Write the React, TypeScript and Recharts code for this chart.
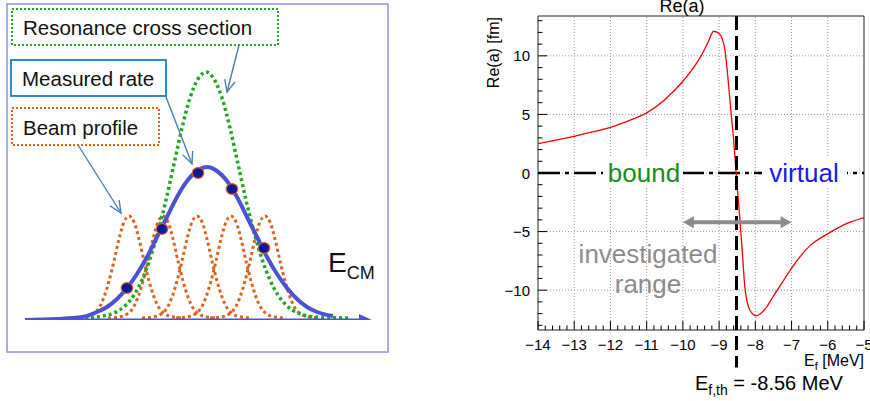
import React from "react";
import {
  ComposedChart,
  Line,
  Scatter,
  XAxis,
  YAxis,
  ReferenceLine,
  ReferenceArea,
} from "recharts";

const FONT = "'Liberation Sans', Arial, Helvetica, sans-serif";

// ---- left panel: schematic resonance scan (arbitrary energy / yield units)
const resonanceE = [85, 96, 114, 126, 134, 142, 150, 158, 166, 174, 182, 190, 198, 206, 214, 222, 230, 238, 246, 254, 262, 270, 278, 286, 298, 316, 350];
const resonanceY = [2, 3, 7, 15, 25, 40, 61, 88, 120, 156, 192, 222, 241, 248, 241, 222, 192, 156, 120, 88, 61, 40, 25, 15, 7, 3, 2];

const rateE = [25, 57, 82, 97, 107, 117, 127, 137, 147, 157, 167, 177, 187, 197, 207, 217, 227, 237, 247, 257, 267, 277, 287, 297, 307, 317, 333];
const rateY = [0, 1, 3, 8, 13, 21, 32, 46, 63, 83, 103, 123, 139, 149, 153, 149, 139, 123, 103, 83, 63, 46, 32, 21, 13, 8, 4];

const pointE = [127, 162, 198, 232, 264];
const pointY = [32, 91, 147, 131, 72];

const beamCenters = [129, 163, 197, 231, 265];
const beamOffsets = [-55, -44, -36, -30, -25, -20, -15, -10, -5, 0, 5, 10, 15, 20, 25, 30, 36, 44, 55];
const beamShape = [2, 3, 6, 12, 23, 39, 59, 81, 98, 104, 98, 81, 59, 39, 23, 12, 6, 3, 2];

const axisE = [25, 366];

// ---- right panel: Re(a) vs E_f
const energyF = [-14, -13.5, -13, -12.5, -12, -11.5, -11, -10.5, -10, -9.75, -9.5, -9.3, -9.15, -9.0, -8.85, -8.75, -8.66, -8.59, -8.53, -8.44, -8.37, -8.29, -8.19, -8.08, -7.98, -7.85, -7.68, -7.5, -7.31, -6.95, -6.49, -5.98, -5.47, -5.0];
const reA = [2.5, 2.8, 3.13, 3.5, 3.9, 4.45, 5.13, 6.26, 7.83, 8.8, 9.97, 11.2, 12.1, 11.9, 10.7, 7.9, 4.8, 2.5, 0, -3.45, -6.3, -9.7, -11.4, -12.0, -12.2, -12.0, -11.4, -10.5, -9.6, -7.9, -6.2, -5.15, -4.3, -3.8];

const xGrid = [-13, -12, -11, -10, -9, -8, -7, -6];
const yGrid = [-10, -5, 0, 5, 10];
const xDomain: [number, number] = [-14, -5];
const yDomain: [number, number] = [-13.4, 13.4];
const thresholdLine = -8.52;
const rangeFrom = -10;
const rangeTo = -7;
const rangeY = -4.2;

const xTicks = Array.from({ length: 46 }, (_, i) => Math.round((-14 + i * 0.2) * 10) / 10);
const yTicks = Array.from({ length: 27 }, (_, i) => i - 13);

const zip = (xs: number[], ys: number[]) => xs.map((x, i) => ({ x, y: ys[i] }));

const resonanceData = zip(resonanceE, resonanceY);
const rateData = zip(rateE, rateY);
const pointData = zip(pointE, pointY);
const beamData = beamCenters.map((c) => beamOffsets.map((o, i) => ({ x: c + o, y: beamShape[i] })));
const axisData = axisE.map((x) => ({ x, y: 0 }));
const arrowTip = [{ x: 372, y: 0 }];
const reData = zip(energyF, reA);

const fmt = (v: number) => (v < 0 ? `\u2212${Math.abs(v)}` : `${v}`);

const XTick = (p: any) => {
  const v = p.payload.value;
  const major = Math.abs(v - Math.round(v)) < 1e-6;
  return (
    <g>
      <line x1={p.x} x2={p.x} y1={p.y} y2={p.y - (major ? 9 : 4.5)} stroke="#000" strokeWidth={1} />
      {major && (
        <text x={p.x} y={p.y + 20} textAnchor="middle" fontSize={15} fontFamily={FONT} fill="#000">
          {fmt(v)}
        </text>
      )}
    </g>
  );
};

const YTick = (p: any) => {
  const v = p.payload.value;
  const major = v % 5 === 0;
  return (
    <g>
      <line x1={p.x} x2={p.x + (major ? 9 : 4.5)} y1={p.y} y2={p.y} stroke="#000" strokeWidth={1} />
      {major && (
        <text x={p.x - 8} y={p.y + 5.5} textAnchor="end" fontSize={15} fontFamily={FONT} fill="#000">
          {fmt(v)}
        </text>
      )}
    </g>
  );
};

const DoubleArrow = (p: any) => {
  const { x1, y1, x2 } = p;
  const c = "#8c8c8c";
  return (
    <g>
      <line x1={x1 + 8} x2={x2 - 8} y1={y1} y2={y1} stroke={c} strokeWidth={4} />
      <polygon points={`${x1},${y1} ${x1 + 11},${y1 - 6} ${x1 + 11},${y1 + 6}`} fill={c} />
      <polygon points={`${x2},${y1} ${x2 - 11},${y1 - 6} ${x2 - 11},${y1 + 6}`} fill={c} />
    </g>
  );
};

const Callout = ({ x1, y1, x2, y2 }: { x1: number; y1: number; x2: number; y2: number }) => {
  const a = Math.atan2(y2 - y1, x2 - x1);
  const L = 13;
  const s = 0.42;
  const h1 = `${x2 - L * Math.cos(a - s)},${y2 - L * Math.sin(a - s)}`;
  const h2 = `${x2 - L * Math.cos(a + s)},${y2 - L * Math.sin(a + s)}`;
  return (
    <g stroke="#4a7fb2" strokeWidth={1.4} fill="none">
      <line x1={x1} y1={y1} x2={x2} y2={y2} />
      <polyline points={`${h1} ${x2},${y2} ${h2}`} />
    </g>
  );
};

export default function App() {
  return (
    <div
      style={{
        position: "absolute",
        left: 0,
        top: 0,
        width: 870,
        height: 401,
        background: "#fff",
        overflow: "hidden",
        fontFamily: FONT,
      }}
    >
      <div style={{ position: "absolute", left: 0, top: 0 }}>
        <ComposedChart width={400} height={360} margin={{ top: 0, right: 28, bottom: 40, left: 25 }}>
          <XAxis type="number" dataKey="x" domain={[25, 372]} hide allowDataOverflow />
          <YAxis type="number" dataKey="y" domain={[0, 320]} hide allowDataOverflow />
          {beamData.map((d, i) => (
            <Line
              key={i}
              data={d}
              dataKey="y"
              type="monotone"
              stroke="#e0601c"
              strokeWidth={3}
              strokeDasharray="3 3"
              dot={false}
              isAnimationActive={false}
            />
          ))}
          <Line
            data={resonanceData}
            dataKey="y"
            type="monotone"
            stroke="#1fa81f"
            strokeWidth={3.5}
            strokeDasharray="3 3"
            dot={false}
            isAnimationActive={false}
          />
          <Line data={axisData} dataKey="y" stroke="#4b52d6" strokeWidth={3} dot={false} isAnimationActive={false} />
          <Scatter
            data={arrowTip}
            isAnimationActive={false}
            shape={(p: any) => (
              <polygon points={`${p.cx},${p.cy} ${p.cx - 13},${p.cy - 6} ${p.cx - 13},${p.cy + 6}`} fill="#4b52d6" />
            )}
          />
          <Line
            data={rateData}
            dataKey="y"
            type="monotone"
            stroke="#4b52d6"
            strokeWidth={4}
            dot={false}
            isAnimationActive={false}
          />
          <Scatter
            data={pointData}
            isAnimationActive={false}
            shape={(p: any) => (
              <ellipse cx={p.cx} cy={p.cy} rx={5.8} ry={5.4} fill="#0a1a96" stroke="#e2601e" strokeWidth={1.2} />
            )}
          />
        </ComposedChart>
      </div>

      <div style={{ position: "absolute", left: 480, top: 0 }}>
        <ComposedChart width={390} height={401} margin={{ top: 16, right: 6, bottom: 41, left: 8 }}>
          <XAxis
            type="number"
            dataKey="x"
            domain={xDomain}
            ticks={xTicks}
            interval={0}
            tickLine={false}
            axisLine={false}
            tickSize={0}
            tickMargin={0}
            tick={(p: any) => <XTick {...p} />}
            height={30}
            allowDataOverflow
          />
          <YAxis
            type="number"
            dataKey="y"
            domain={yDomain}
            ticks={yTicks}
            interval={0}
            tickLine={false}
            axisLine={false}
            tickSize={0}
            tickMargin={0}
            tick={(p: any) => <YTick {...p} />}
            width={50}
            allowDataOverflow
          />
          {xGrid.map((v) => (
            <ReferenceLine key={`gx${v}`} x={v} stroke="#9a9a9a" strokeDasharray="1 2" strokeWidth={1} />
          ))}
          {yGrid.map((v) => (
            <ReferenceLine key={`gy${v}`} y={v} stroke="#9a9a9a" strokeDasharray="1 2" strokeWidth={1} />
          ))}
          <ReferenceArea
            x1={xDomain[0]}
            x2={xDomain[1]}
            y1={yDomain[0]}
            y2={yDomain[1]}
            fill="none"
            fillOpacity={0}
            stroke="#222"
            strokeWidth={1}
          />
          <ReferenceLine y={0} stroke="#000" strokeWidth={2.5} strokeDasharray="22 5 4 5" />
          <Line
            data={reData}
            dataKey="y"
            type="monotone"
            stroke="#ff0000"
            strokeWidth={1.3}
            dot={false}
            isAnimationActive={false}
          />
          <ReferenceLine
            segment={[
              { x: thresholdLine, y: yDomain[1] },
              { x: thresholdLine, y: -16.6 },
            ]}
            ifOverflow="visible"
            stroke="#000"
            strokeWidth={3}
            strokeDasharray="14 6"
          />
          <ReferenceLine
            segment={[
              { x: rangeFrom, y: rangeY },
              { x: rangeTo, y: rangeY },
            ]}
            shape={(p: any) => <DoubleArrow {...p} />}
          />
        </ComposedChart>
      </div>

      <svg
        width={870}
        height={401}
        style={{ position: "absolute", left: 0, top: 0, pointerEvents: "none" }}
        fontFamily={FONT}
      >
        {/* left panel frame and call-outs */}
        <rect x={7} y={4} width={381} height={348} fill="none" stroke="#8e93e8" strokeWidth={1.5} />
        <rect x={12} y={9} width={266} height={36} fill="#fff" stroke="#22a822" strokeWidth={2} strokeDasharray="2 2" />
        <text x={23} y={35} fontSize={20.5} fill="#111">Resonance cross section</text>
        <rect x={11} y={60} width={155} height={36} fill="#fff" stroke="#2a8ccc" strokeWidth={2} />
        <text x={22} y={86} fontSize={20.5} fill="#111">Measured rate</text>
        <rect x={12} y={108} width={147} height={37} fill="#fff" stroke="#e0601c" strokeWidth={2} strokeDasharray="2 2" />
        <text x={23} y={135} fontSize={20.5} fill="#111">Beam profile</text>
        <Callout x1={78} y1={145} x2={121} y2={213} />
        <Callout x1={166} y1={97} x2={192} y2={164} />
        <Callout x1={239} y1={45} x2={227} y2={92} />
        <text x={328} y={272} fontSize={28} fill="#111">
          E
          <tspan fontSize={18} dy={7}>CM</tspan>
        </text>

        {/* right panel texts */}
        <text x={682} y={12} textAnchor="middle" fontSize={18} fill="#000">Re(a)</text>
        <text transform="translate(499,17) rotate(-90)" textAnchor="end" fontSize={16} fill="#000">
          Re(a) [fm]
        </text>
        <text x={864} y={366} textAnchor="end" fontSize={16} fill="#000">
          E<tspan fontSize={11} dy={4}>f</tspan>
          <tspan dy={-4}> [MeV]</tspan>
        </text>
        <rect x={603} y={158} width={80} height={30} fill="#fff" />
        <text x={644} y={182} textAnchor="middle" fontSize={26} fill="#1a8c1a">bound</text>
        <rect x={762} y={158} width={85} height={30} fill="#fff" />
        <text x={804} y={182} textAnchor="middle" fontSize={26} fill="#1818f0">virtual</text>
        <text x={648} y={263} textAnchor="middle" fontSize={26} fill="#8c8c8c">investigated</text>
        <text x={648} y={293} textAnchor="middle" fontSize={26} fill="#8c8c8c">range</text>
        <text x={695} y={390} fontSize={20} fill="#000">
          E<tspan fontSize={14} dy={5}>f,th</tspan>
          <tspan dy={-5}> = -8.56 MeV</tspan>
        </text>
      </svg>
    </div>
  );
}
